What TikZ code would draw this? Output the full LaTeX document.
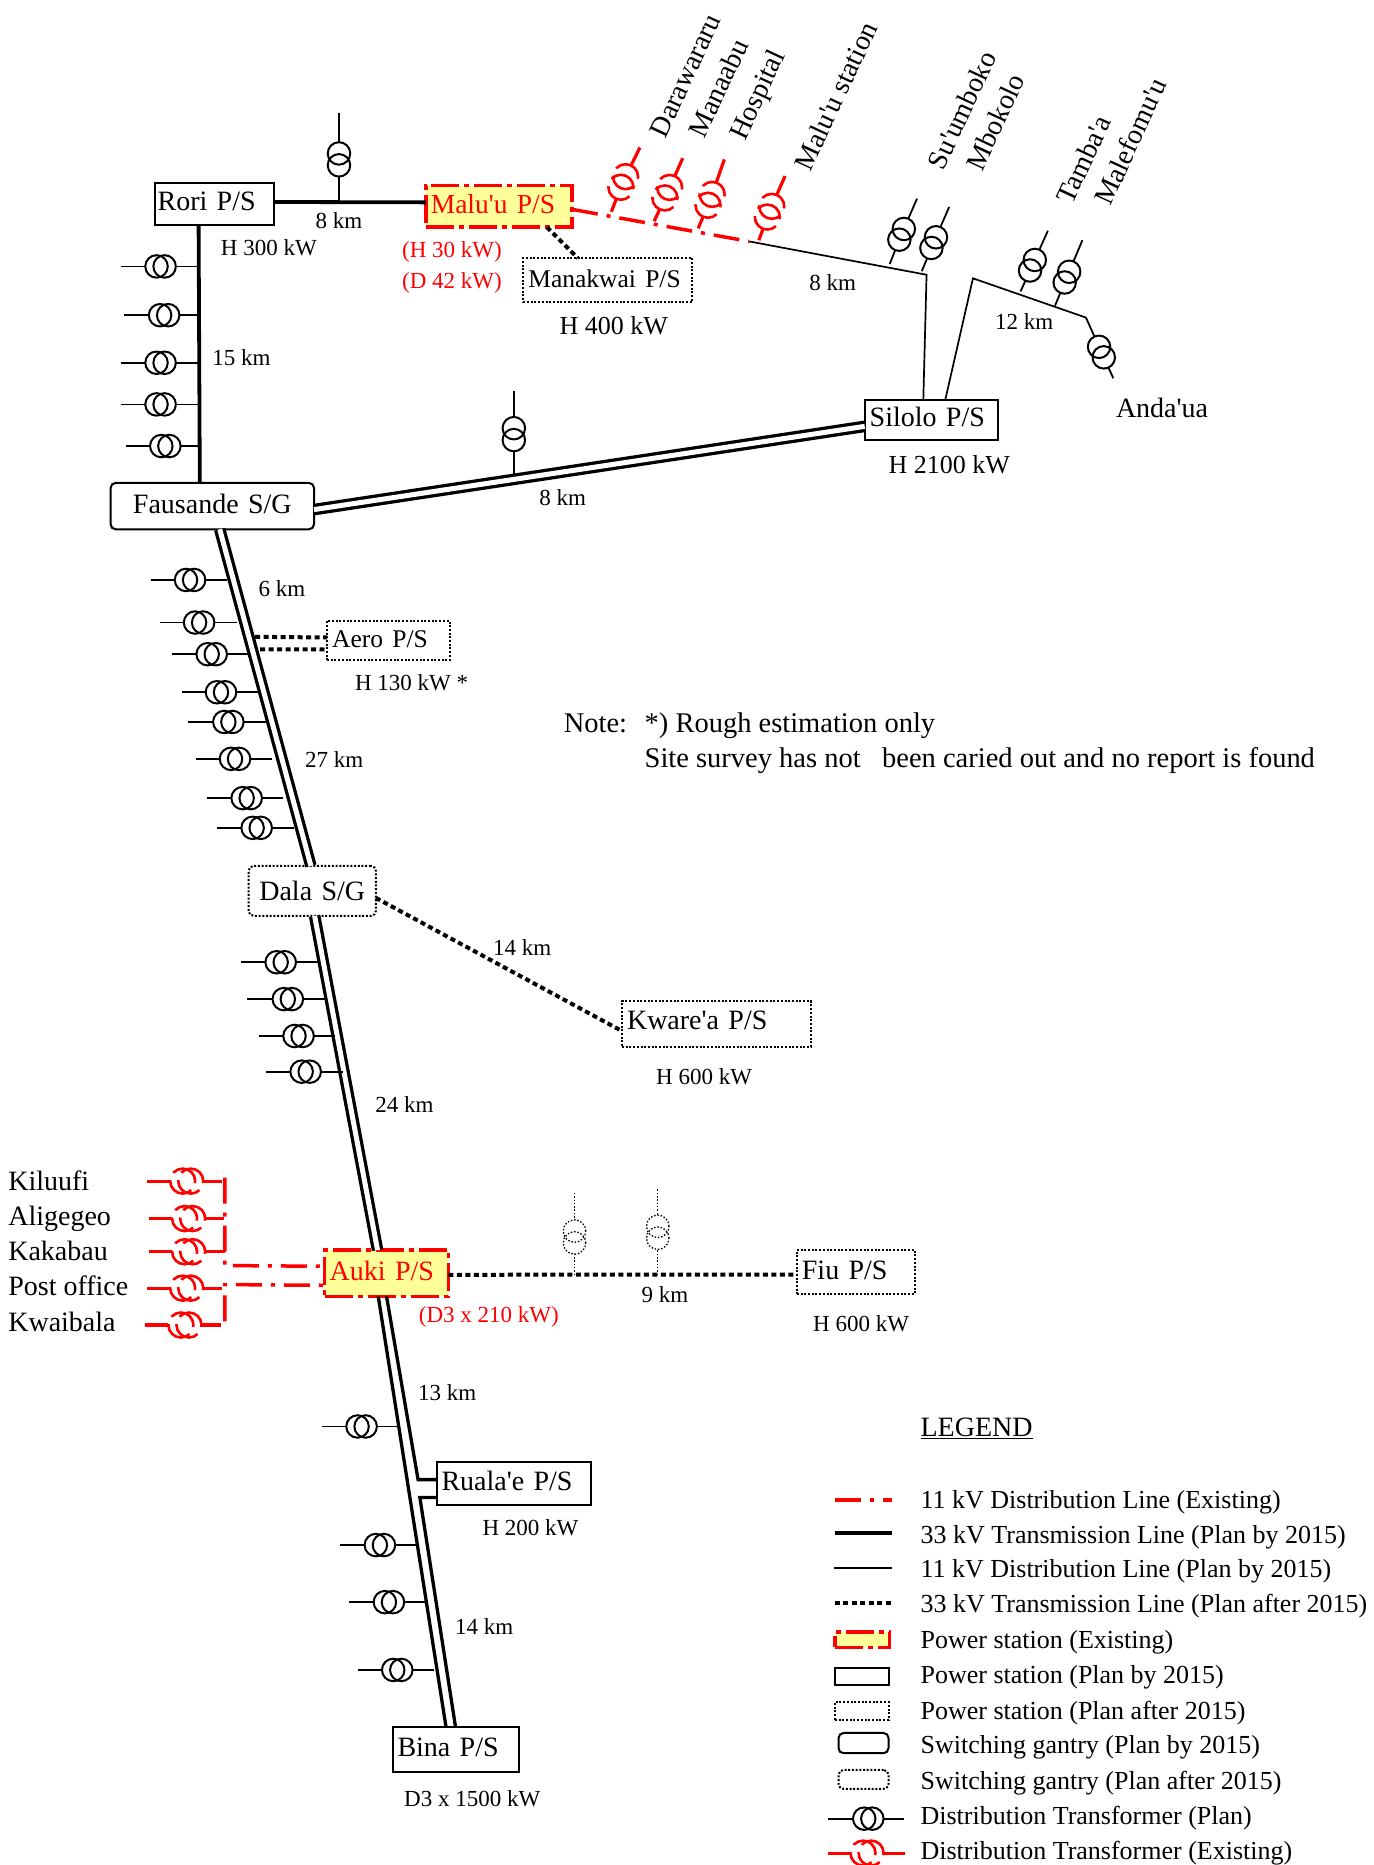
\documentclass[tikz,border=0pt]{standalone}
\usepackage{fontspec}
\setmainfont[Ligatures=TeXOff]{Liberation Serif}
\usetikzlibrary{calc}
\newcounter{lblc}
\definecolor{psfill}{HTML}{FFFF99}
\tikzset{
  x=1.1896pt, y=-1.1896pt,
  big/.style={font=\fontsize{28}{30}\selectfont},
  mid/.style={font=\fontsize{23}{25}\selectfont},
  leg/.style={font=\fontsize{26}{28}\selectfont},
  lbl/.style={inner sep=0pt,outer sep=0pt,yshift=-3pt},
  thinl/.style={line width=1.7pt},
  trans/.style={line width=3.8pt},
  rdash/.style={red,line width=3.5pt,dash pattern=on 26pt off 9pt on 4pt off 9pt},
  dotl/.style={line width=4pt,dash pattern=on 5pt off 3.5pt},
  dbl/.style={line width=3.3pt,double,double distance=5pt},
  ps/.style={draw,line width=2pt,inner sep=0pt,outer sep=0pt},
  psdot/.style={draw,line width=2pt,dash pattern=on 2pt off 1.7pt,inner sep=0pt,outer sep=0pt},
  psold/.style={draw=red,fill=psfill,text=red,line width=3.5pt,dash pattern=on 28pt off 5pt on 5pt off 5pt,inner sep=0pt,outer sep=0pt},
  sg/.style={ps,rounded corners=5pt},
  sgdot/.style={psdot,rounded corners=5pt},
  xfp/.style={circle,draw,line width=2pt,minimum size=22.5pt,inner sep=0pt,outer sep=0pt},
  xfo/.style={xfp,draw=red,line width=2.6pt,minimum size=25pt,dash pattern=on 30pt off 8pt},
  xfd/.style={xfp,line width=1.3pt,dash pattern=on 1.5pt off 1.8pt},
  leadp/.style={line width=1.8pt},
  leado/.style={red,line width=3.2pt},
  leadd/.style={line width=1.3pt,dash pattern=on 1.5pt off 1.8pt},
}
% box: name, x1,y1,x2,y2, style, text, alignment
\newcommand\bx[8]{%
  \pgfmathsetmacro\bxc{(#2+#4)/2}\pgfmathsetmacro\byc{(#3+#5)/2}%
  \pgfmathsetmacro\bw{(#4-#2)*1.1896}\pgfmathsetmacro\bh{(#5-#3)*1.1896}\pgfmathsetmacro\btw{\bw-10}%
  \node[#6,big,minimum width=\bw pt,minimum height=\bh pt,text width=\btw pt,align=#8,text height=20pt,text depth=6pt] (#1) at (\bxc,\byc) {#7};}
% empty legend box
\newcommand\bxe[6]{%
  \pgfmathsetmacro\bxc{(#2+#4)/2}\pgfmathsetmacro\byc{(#3+#5)/2}%
  \pgfmathsetmacro\bw{(#4-#2)*1.1896}\pgfmathsetmacro\bh{(#5-#3)*1.1896}%
  \node[#6,minimum width=\bw pt,minimum height=\bh pt] (#1) at (\bxc,\byc) {};}
% label centred
\newcommand\lab[4][mid]{\stepcounter{lblc}\node[lbl,#1,text height=16pt,text depth=5pt] (lab\thelblc) at (#2,#3) {#4};}
% label left aligned
\newcommand\labl[4][big]{\stepcounter{lblc}\node[lbl,#1,anchor=west,text height=18pt,text depth=6pt] (lab\thelblc) at (#2,#3) {#4};}
% rotated label
\newcommand\labr[3]{\stepcounter{lblc}\node[inner sep=0pt,big,rotate=65,anchor=west,text height=18pt,text depth=6pt] (lab\thelblc) at (#1,#2) {#3};}
% transformer: name, centre x,y, outer end 1 x,y, outer end 2 x,y, kind (p/o/d)
\newcommand\xf[8]{%
  \pgfmathsetmacro\xl{veclen(#6-#4,#7-#5)}%
  \pgfmathsetmacro\xu{(#6-#4)/\xl}\pgfmathsetmacro\xv{(#7-#5)/\xl}%
  \pgfmathsetmacro\xo{3.4+1.6*abs(\xv)}%
  \node[xf#8] (#1a) at ({#2-\xo*\xu},{#3-\xo*\xv}) {};
  \node[xf#8] (#1b) at ({#2+\xo*\xu},{#3+\xo*\xv}) {};
  \coordinate (#1l) at (#4,#5);
  \coordinate (#1r) at (#6,#7);
  \draw[lead#8] (#1l) -- (#1a);
  \draw[lead#8] (#1r) -- (#1b);
}
\newcommand\hxf[5]{\xf{#1}{#3}{#2}{#4}{#2}{#5}{#2}{p}}
\newcommand\rxf[5]{\xf{#1}{#3}{#2}{#4}{#2}{#5}{#2}{o}}
\begin{document}
\begin{tikzpicture}
\useasboundingbox (0,0) rectangle (1155,1568);
\clip (0,0) rectangle (1155,1568);
% boxes
\bx{R}{130}{154}{230}{189}{ps}{\hspace*{-2pt}Rori P/S}{left}
\bx{M}{358}{156}{481}{191}{psold}{\fontsize{27.5}{29}\selectfont Malu'u P/S}{left}
\bx{Mk}{440}{217}{582}{254}{psdot}{\fontsize{25.5}{28}\selectfont Manakwai P/S}{left}
\bx{Si}{727}{336}{839}{370}{ps}{Silolo P/S}{left}
\bx{F}{93}{406}{264}{445}{sg}{Fausande S/G}{center}
\bx{Ae}{275}{522}{378}{555}{psdot}{\fontsize{25.5}{28}\selectfont Aero P/S}{left}
\bx{D}{209}{728}{316}{770}{sgdot}{\raisebox{-3pt}{Dala S/G}}{center}
\bx{Kw}{523}{842}{682}{880}{psdot}{\raisebox{2pt}{Kware'a P/S}}{left}
\bx{A}{273}{1051}{377}{1090}{psold}{Auki P/S}{left}
\bx{Fi}{670}{1051}{769}{1088}{psdot}{Fiu P/S}{left}
\bx{Ru}{367}{1229}{497}{1265}{ps}{Ruala'e P/S}{left}
\bx{B}{330}{1452}{436}{1490}{ps}{Bina P/S}{left}
% main lines
\draw[trans] ([yshift=2pt]R.east) -- ([yshift=4pt]M.west);
\draw[trans] ([xshift=-15.5pt]R.south) -- ([xshift=-12.5pt]F.north);
\draw[dbl] ([yshift=-3.5pt]F.east) -- ([yshift=-6.5pt]Si.west);
\draw[dbl] ([xshift=7.4pt]F.south) -- ([xshift=-1.3pt]D.north);
\draw[dbl] ([xshift=2.4pt]D.south) -- ([xshift=-9pt]A.north);
\coordinate (ru1) at (351.5,1244);
\coordinate (ru2) at (353,1259);
\draw[line width=3.3pt] ([xshift=-8.3pt]A.south) -- ([xshift=-9.5pt]B.north);
\draw[line width=3.3pt] (A.south) -- (ru1) -- ([yshift=3.6pt]Ru.west);
\draw[line width=3.3pt] ([yshift=-14.3pt]Ru.west) -- (ru2) -- (B.north);
\draw[dotl] ([xshift=48pt]M.south) -- ([xshift=-30pt]Mk.north);
\coordinate (ae1) at (214.5,535.4);
\coordinate (ae2) at (218.6,546);
\draw[dotl] (ae1) -- ([yshift=3pt]Ae.west);
\draw[dotl] (ae2) -- ([yshift=-9pt]Ae.west);
\draw[dotl] ([yshift=-7pt]D.east) -- ([yshift=-7pt]Kw.west);
\draw[dotl] ([yshift=-1.5pt]A.east) -- ([yshift=-2.5pt]Fi.west);
% 11kV lines
\coordinate (j1) at (630,203);
\coordinate (j2) at (779,231);
\coordinate (j3) at (818,234);
\coordinate (j4) at (913,267);
\draw[rdash] ([yshift=-3pt]M.east) -- (j1);
\draw[thinl] (j1) -- (j2) -- ([xshift=-8pt]Si.north);
\draw[thinl] ([xshift=14pt]Si.north) -- (j3) -- (j4);
% red feeders at Auki
\coordinate (b1) at (189,990);
\coordinate (b2) at (189,1064);
\coordinate (b3) at (189,1080);
\coordinate (b4) at (189,1111);
\draw[rdash] (b1) -- (b2) -- ([yshift=7pt]A.west);
\draw[rdash] (b4) -- (b3) -- ([yshift=-12pt]A.west);
% transformers
\xf{t1}{285}{134}{285}{95}{285}{170}{p}
\hxf{t2}{224}{135}{102}{166}
\hxf{t3}{265}{138}{104}{167}
\hxf{t4}{305}{135}{102}{167}
\hxf{t5}{340}{135}{102}{167}
\hxf{t6}{375}{139}{106}{168}
\xf{t7}{432}{365}{432}{329}{432}{399}{p}
\xf{t8}{758}{197}{771}{167}{748}{222}{p}
\xf{t9}{785}{204}{798}{174}{775}{228}{p}
\xf{t10}{868}{223}{881}{194}{858}{245}{p}
\xf{t11}{897}{233}{910}{202}{887}{257}{p}
\xf{t12}{926}{296}{913}{267}{936}{318}{p}
\xf{r1}{524}{153}{538}{124}{514}{178}{o}
\xf{r2}{561}{162}{574}{133}{550}{186}{o}
\xf{r3}{597}{168}{609}{134}{587}{192}{o}
\xf{r4}{647}{178}{660}{148}{638}{202}{o}
\hxf{a1}{487.6}{159.8}{126.7}{190.6}
\hxf{a2}{523.4}{167.4}{134.5}{199}
\hxf{a3}{550}{178}{145}{208.6}
\hxf{a4}{582}{185.8}{152.7}{217}
\hxf{a5}{607}{192}{158}{223.6}
\hxf{a6}{638}{197.6}{164.5}{229}
\hxf{a7}{671}{207.4}{173.7}{238}
\hxf{a8}{696}{215.8}{182.6}{247}
\hxf{d1}{809}{236}{203}{267}
\hxf{d2}{840}{242}{208}{273}
\hxf{d3}{871}{251}{218}{282}
\hxf{d4}{901}{257}{224}{288}
\rxf{k1}{993}{157}{124}{187}
\rxf{k2}{1024.5}{158.6}{125.5}{188.6}
\rxf{k3}{1052.4}{158.6}{125.5}{189}
\rxf{k4}{1083}{157}{124}{187}
\rxf{k5}{1114}{155.5}{122}{186}
\xf{f1}{483}{1040}{483}{1003}{483}{1072}{d}
\xf{f2}{553}{1036}{553}{1000}{553}{1072}{d}
\hxf{s1}{1199.3}{304}{270.4}{334}
\hxf{s2}{1299}{319.4}{285.8}{350}
\hxf{s3}{1347}{327}{293.4}{358}
\hxf{s4}{1404}{334}{300.7}{365}
% labels
\lab{285}{185}{8 km}
\lab{226}{208}{H 300 kW}
\lab[mid,red]{380}{209}{(H 30 kW)}
\lab[mid,red]{380}{235}{(D 42 kW)}
\lab[font=\fontsize{26}{28}\selectfont]{516}{274}{H 400 kW}
\lab{203}{300}{15 km}
\lab{700}{237}{8 km}
\lab{861}{270}{12 km}
\lab[big]{977}{344}{Anda'ua}
\lab[font=\fontsize{26}{28}\selectfont]{798}{391}{H 2100 kW}
\lab{473}{418}{8 km}
\lab{237}{494}{6 km}
\lab{346}{573}{H 130 kW *}
\lab{281}{638}{27 km}
\lab{439}{796}{14 km}
\lab{592}{905}{H 600 kW}
\lab{340}{928}{24 km}
\lab{559}{1088}{9 km}
\lab{724}{1112}{H 600 kW}
\lab[mid,red]{411}{1105}{(D3 x 210 kW)}
\lab{376}{1170}{13 km}
\lab{446}{1284}{H 200 kW}
\lab{407}{1367}{14 km}
\lab{397}{1512}{D3 x 1500 kW}
\labr{555}{115}{Darawararu}
\labr{588}{115}{Manaabu}
\labr{622}{117}{Hospital}
\labr{677}{143}{Malu'u station}
\labr{789}{142}{Su'umboko}
\labr{821}{143}{Mbokolo}
\labr{897}{171}{Tamba'a}
\labr{929}{172}{Malefomu'u}
\labl[font=\fontsize{28.5}{30}\selectfont]{474}{608}{Note:}
\labl[font=\fontsize{28.5}{30}\selectfont]{542}{608}{*) Rough estimation only}
\labl[font=\fontsize{28.5}{30}\selectfont]{542}{638}{Site survey has not\ \ \ been caried out and no report is found}
\labl{7}{993}{Kiluufi}
\labl{7}{1023}{Aligegeo}
\labl{7}{1052}{Kakabau}
\labl{7}{1082}{Post office}
\labl{7}{1112}{Kwaibala}
% legend
\labl[big]{774}{1200}{\underline{LEGEND}}
\labl[leg]{774}{1261}{11 kV Distribution Line (Existing)}
\labl[leg]{774}{1290}{33 kV Transmission Line (Plan by 2015)}
\labl[leg]{774}{1319}{11 kV Distribution Line (Plan by 2015)}
\labl[leg]{774}{1348}{33 kV Transmission Line (Plan after 2015)}
\labl[leg]{774}{1378}{Power station (Existing)}
\labl[leg]{774}{1408}{Power station (Plan by 2015)}
\labl[leg]{774}{1438}{Power station (Plan after 2015)}
\labl[leg]{774}{1467}{Switching gantry (Plan by 2015)}
\labl[leg]{774}{1497}{Switching gantry (Plan after 2015)}
\labl[leg]{774}{1526}{Distribution Transformer (Plan)}
\labl[leg]{774}{1556}{Distribution Transformer (Existing)}
\coordinate (g1a) at (702,1261); \coordinate (g1b) at (750,1261);
\coordinate (g2a) at (702,1289); \coordinate (g2b) at (750,1289);
\coordinate (g3a) at (701,1318); \coordinate (g3b) at (750,1318);
\coordinate (g4a) at (702,1348); \coordinate (g4b) at (750,1348);
\draw[rdash] (g1a) -- (g1b);
\draw[trans] (g2a) -- (g2b);
\draw[thinl] (g3a) -- (g3b);
\draw[dotl] (g4a) -- (g4b);
\bxe{g5}{702}{1372}{748}{1385}{psold}
\bxe{g6}{702}{1402}{747}{1417}{ps}
\bxe{g7}{702}{1431}{747}{1446}{psdot}
\bxe{g8}{705}{1457}{747}{1474}{sg}
\bxe{g9}{705}{1488}{747}{1504}{sgdot}
\hxf{g10}{1529}{730}{696}{760}
\rxf{g11}{1558}{729}{696}{761}
\end{tikzpicture}
\end{document}
